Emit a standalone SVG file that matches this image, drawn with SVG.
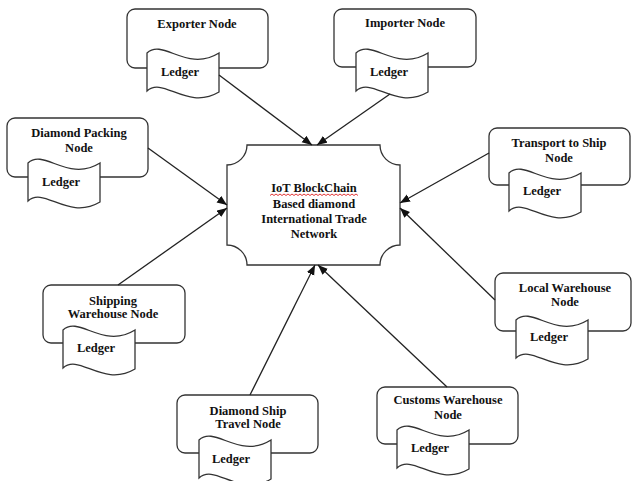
<svg xmlns="http://www.w3.org/2000/svg" width="634" height="481" viewBox="0 0 634 481">
  <defs>
    <style>
      .box { fill: #ffffff; stroke: #333333; stroke-width: 1.3; }
      .ledger { fill: #ffffff; stroke: #333333; stroke-width: 1.3; }
      .lbl { font-family: "Liberation Serif", "Times New Roman", serif; font-weight: bold; font-size: 12.5px; fill: #111111; text-anchor: middle; }
      .conn { stroke: #222222; stroke-width: 1.3; fill: none; marker-end: url(#arrow); }
      .squiggle { stroke: #e02020; stroke-width: 0.9; fill: none; }
    </style>
    <marker id="arrow" markerUnits="userSpaceOnUse" markerWidth="11" markerHeight="9" refX="10" refY="4" orient="auto">
      <path d="M0,0 L10,4 L0,8 Z" fill="#111111"/>
    </marker>
    <!-- punched-tape "Ledger" shape, 72 wide -->
    <path id="ledgerShape" d="M0,6 C16,-9 40,26 72,6 L72,45 C40,64 16,29 0,44 Z"/>
  </defs>

  <!-- central network node with concave corners -->
  <g id="center">
    <path class="box" d="M247,145 L380,145 A20,20 0 0 0 400,165 L400,245 A20,20 0 0 0 380,265 L247,265 A20,20 0 0 0 227,245 L227,165 A20,20 0 0 0 247,145 Z"/>
    <text class="lbl" x="314" y="192">IoT BlockChain</text>
    <path class="squiggle" d="M270,195.5 l2,-1.5 l2,1.5 l2,-1.5 l2,1.5 l2,-1.5 l2,1.5 l2,-1.5 l2,1.5 l2,-1.5 l2,1.5 l2,-1.5 l2,1.5 l2,-1.5 l2,1.5 l2,-1.5 l2,1.5 l2,-1.5 l2,1.5 l2,-1.5 l2,1.5 l2,-1.5 l2,1.5 l2,-1.5 l2,1.5 l2,-1.5 l2,1.5 l2,-1.5 l2,1.5 l2,-1.5 l2,1.5 l2,-1.5 l2,1.5 l2,-1.5 l2,1.5 l2,-1.5 l2,1.5 l2,-1.5 l2,1.5 l2,-1.5 l2,1.5 l2,-1.5 l2,1.5 l2,-1.5 l2,1.5"/>
    <text class="lbl" x="314" y="208">Based diamond</text>
    <text class="lbl" x="314" y="223">International Trade</text>
    <text class="lbl" x="314" y="238">Network</text>
  </g>

  <g id="exporter">
    <rect class="box" x="127" y="9" width="141" height="59" rx="8"/>
    <use href="#ledgerShape" class="ledger" x="147" y="47"/>
    <text class="lbl" x="197" y="28">Exporter Node</text>
    <text class="lbl" x="180" y="76">Ledger</text>
  </g>

  <g id="importer">
    <rect class="box" x="334" y="9" width="142" height="58" rx="8"/>
    <use href="#ledgerShape" class="ledger" x="356" y="47"/>
    <text class="lbl" x="405" y="27">Importer Node</text>
    <text class="lbl" x="389" y="76">Ledger</text>
  </g>

  <g id="diamond-packing">
    <rect class="box" x="7" y="118" width="141" height="59" rx="8"/>
    <use href="#ledgerShape" class="ledger" x="28" y="157"/>
    <text class="lbl" x="79" y="137">Diamond Packing</text>
    <text class="lbl" x="79" y="152">Node</text>
    <text class="lbl" x="61" y="186">Ledger</text>
  </g>

  <g id="transport-to-ship">
    <rect class="box" x="489" y="128" width="141" height="57" rx="8"/>
    <use href="#ledgerShape" class="ledger" x="509" y="167"/>
    <text class="lbl" x="559" y="147">Transport to Ship</text>
    <text class="lbl" x="559" y="162">Node</text>
    <text class="lbl" x="542" y="195">Ledger</text>
  </g>

  <g id="shipping-warehouse">
    <rect class="box" x="43" y="285" width="142" height="58" rx="8"/>
    <use href="#ledgerShape" class="ledger" x="63" y="324"/>
    <text class="lbl" x="113" y="305">Shipping</text>
    <text class="lbl" x="113" y="318">Warehouse Node</text>
    <text class="lbl" x="96" y="352">Ledger</text>
  </g>

  <g id="local-warehouse">
    <rect class="box" x="495" y="273" width="136" height="58" rx="8"/>
    <use href="#ledgerShape" class="ledger" x="516" y="314"/>
    <text class="lbl" x="565" y="292">Local Warehouse</text>
    <text class="lbl" x="565" y="306">Node</text>
    <text class="lbl" x="549" y="341">Ledger</text>
  </g>

  <g id="diamond-ship-travel">
    <rect class="box" x="177" y="395" width="141" height="58" rx="8"/>
    <use href="#ledgerShape" class="ledger" x="199" y="434"/>
    <text class="lbl" x="248" y="415">Diamond Ship</text>
    <text class="lbl" x="248" y="428">Travel Node</text>
    <text class="lbl" x="231" y="463">Ledger</text>
  </g>

  <g id="customs-warehouse">
    <rect class="box" x="377" y="387" width="141" height="57" rx="8"/>
    <use href="#ledgerShape" class="ledger" x="397" y="424"/>
    <text class="lbl" x="448" y="404">Customs Warehouse</text>
    <text class="lbl" x="448" y="419">Node</text>
    <text class="lbl" x="430" y="452">Ledger</text>
  </g>

  <!-- connectors: every node points at the central network -->
  <g id="connectors">
    <line class="conn" x1="219" y1="75" x2="312" y2="145"/>
    <line class="conn" x1="390" y1="94" x2="317" y2="145"/>
    <line class="conn" x1="148" y1="148" x2="227" y2="205"/>
    <line class="conn" x1="489" y1="153" x2="400" y2="203"/>
    <line class="conn" x1="118" y1="285" x2="227" y2="208"/>
    <line class="conn" x1="495" y1="300" x2="400" y2="208"/>
    <line class="conn" x1="250" y1="395" x2="315" y2="265"/>
    <line class="conn" x1="447" y1="387" x2="318" y2="265"/>
  </g>
</svg>
